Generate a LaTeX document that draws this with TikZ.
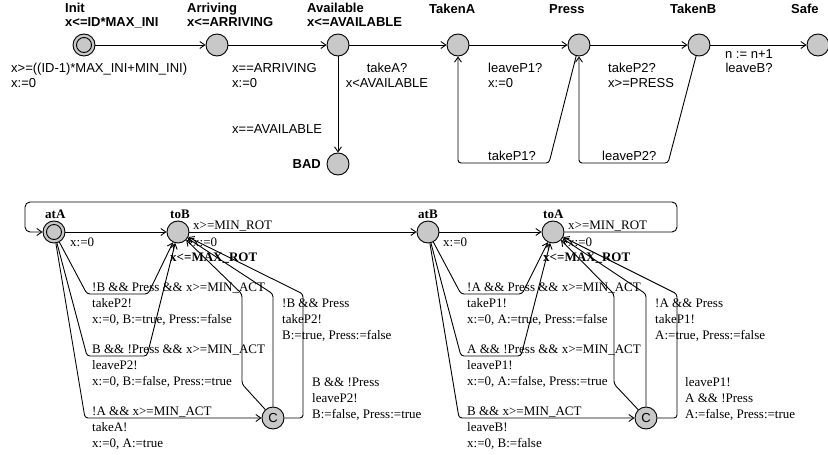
\documentclass[tikz,border=0pt]{standalone}
\usepackage{fontspec}
\setmainfont{Liberation Serif}
\setsansfont{Liberation Sans}
\usetikzlibrary{arrows.meta}
\definecolor{locfill}{RGB}{200,200,200}
\begin{document}
\begin{tikzpicture}[x=1pt,y=-1pt,
  loc/.style={circle,draw,fill=locfill,minimum size=22pt,inner sep=0pt,line width=0.9pt},
  edge/.style={draw,line width=0.9pt,-{Straight Barb[length=5pt,width=7pt]},rounded corners=3pt},
  slab/.style={font=\sffamily\fontsize{13}{14.5}\selectfont,inner sep=0pt,anchor=base west,align=left},
  snam/.style={slab,font=\sffamily\bfseries\fontsize{13}{14}\selectfont},
  rlab/.style={font=\rmfamily\fontsize{13}{16}\selectfont,inner sep=0pt,anchor=base west,align=left},
  rnam/.style={rlab,font=\rmfamily\bfseries\fontsize{13}{16}\selectfont},
  initmark/.style={draw,line width=0.9pt},
]
\useasboundingbox (0,0) rectangle (828,455);
% ---------- top automaton ----------
\node[loc] (init) at (84,45) {};
\draw[initmark] (init.center) circle (7.5pt);
\node[loc] (arr) at (217,45) {};
\node[loc] (avail) at (338,45) {};
\node[loc] (takenA) at (458,45) {};
\node[loc] (press) at (579,45) {};
\node[loc] (takenB) at (699,45) {};
\node[loc] (safe) at (818,45) {};
\node[loc] (bad) at (338,164) {};

% multi-line nodes: anchor base = baseline of the last line
\node[snam] (lInit) at (65,27) {Init\\x<=ID*MAX\_INI};
\node[snam] (lArr) at (187,27) {Arriving\\x<=ARRIVING};
\node[snam] (lAv) at (307,27) {Available\\x<=AVAILABLE};
\node[snam] (lTA) at (429,13) {TakenA};
\node[snam] (lPr) at (549,13) {Press};
\node[snam] (lTB) at (670,13) {TakenB};
\node[snam] (lSafe) at (791,13) {Safe};
\node[snam,anchor=base east] (lBad) at (321,168) {BAD};

\draw[edge] (init) -- (arr);
\draw[edge] (arr) -- (avail);
\draw[edge] (avail) -- (takenA);
\draw[edge] (takenA) -- (press);
\draw[edge] (press) -- (takenB);
\draw[edge] (takenB) -- (safe);
\draw[edge] (avail) -- (bad);
\draw[edge] (press) -- (549,163) -- (458,163) -- (takenA);
\draw[edge] (takenB) -- (668,163) -- (579,163) -- (press);

\node[slab] (e1) at (11,87) {x>=((ID-1)*MAX\_INI+MIN\_INI)\\x:=0};
\node[slab] (e2) at (232,87) {x==ARRIVING\\x:=0};
\node[slab] (e3) at (232,133) {x==AVAILABLE};
\node[slab,align=center,anchor=base] (e4) at (387,87) {takeA?\\x<AVAILABLE};
\node[slab] (e5) at (488,87) {leaveP1?\\x:=0};
\node[slab] (e6) at (488,160) {takeP1?};
\node[slab] (e7) at (608,87) {takeP2?\\x>=PRESS};
\node[slab] (e8) at (602,160) {leaveP2?};
\node[slab,align=center,anchor=base] (e9) at (749,72.5) {n := n+1\\leaveB?};

% ---------- bottom automaton ----------
\node[loc] (atA) at (54,232) {};
\draw[initmark] (atA.center) circle (7.5pt);
\node[loc] (toB) at (178,232) {};
\node[loc] (atB) at (428,232) {};
\node[loc] (toA) at (553,232) {};
\node[loc,font=\sffamily\fontsize{13}{14}\selectfont] (c1) at (273,418) {C};
\node[loc,font=\sffamily\fontsize{13}{14}\selectfont] (c2) at (646,418) {C};

\node[rnam] (lAtA) at (45,218) {atA};
\node[rnam] (lToB) at (170,218) {toB};
\node[rnam] (lAtB) at (418,218) {atB};
\node[rnam] (lToA) at (543,218) {toA};
\node[rnam] (iToB) at (170,261) {x<=MAX\_ROT};
\node[rnam] (iToA) at (543,261) {x<=MAX\_ROT};

\draw[edge] (atA) -- (toB);
\draw[edge] (toB) -- (atB);
\draw[edge] (atB) -- (toA);
\draw[edge,rounded corners=5pt] (toA) -- (677,232) -- (677,202) -- (25,202) -- (25,232) -- (atA);

\draw[edge] (atA) -- (87,294) -- (148,294) -- (toB);
\draw[edge] (atA) -- (87,356) -- (147,356) -- (toB);
\draw[edge] (atA) -- (85,418) -- (c1);
\draw[edge] (c1) -- (242,384) -- (242,294) -- (toB);
\draw[edge] (c1) -- (273,294) -- (toB);
\draw[edge] (c1) -- (303,418) -- (303,294) -- (toB);

\draw[edge] (atB) -- (461,294) -- (522,294) -- (toA);
\draw[edge] (atB) -- (461,356) -- (521,356) -- (toA);
\draw[edge] (atB) -- (459,418) -- (c2);
\draw[edge] (c2) -- (614,384) -- (614,294) -- (toA);
\draw[edge] (c2) -- (646,294) -- (toA);
\draw[edge] (c2) -- (677,418) -- (677,294) -- (toA);

\node[rlab] (r1) at (193,229) {x>=MIN\_ROT};
\node[rlab] (r2) at (193,246) {x:=0};
\node[rlab] (r3) at (70,246) {x:=0};
\node[rlab] (r4) at (443,246) {x:=0};
\node[rlab] (r5) at (568,229) {x>=MIN\_ROT};
\node[rlab] (r6) at (568,246) {x:=0};

\node[rlab] (g1) at (92,323.5) {!B \&\& Press \&\& x>=MIN\_ACT\\takeP2!\\x:=0, B:=true, Press:=false};
\node[rlab] (g2) at (92,385) {B \&\& !Press \&\& x>=MIN\_ACT\\leaveP2!\\x:=0, B:=false, Press:=true};
\node[rlab] (g3) at (92,447) {!A \&\& x>=MIN\_ACT\\takeA!\\x:=0, A:=true};
\node[rlab] (g4) at (282,339.5) {!B \&\& Press\\takeP2!\\B:=true, Press:=false};
\node[rlab] (g5) at (312,418) {B \&\& !Press\\leaveP2!\\B:=false, Press:=true};

\node[rlab] (h1) at (467,323.5) {!A \&\& Press \&\& x>=MIN\_ACT\\takeP1!\\x:=0, A:=true, Press:=false};
\node[rlab] (h2) at (467,385) {A \&\& !Press \&\& x>=MIN\_ACT\\leaveP1!\\x:=0, A:=false, Press:=true};
\node[rlab] (h3) at (467,447) {B \&\& x>=MIN\_ACT\\leaveB!\\x:=0, B:=false};
\node[rlab] (h4) at (655,339.5) {!A \&\& Press\\takeP1!\\A:=true, Press:=false};
\node[rlab] (h5) at (685,418) {leaveP1!\\A \&\& !Press\\A:=false, Press:=true};
\end{tikzpicture}
\end{document}
